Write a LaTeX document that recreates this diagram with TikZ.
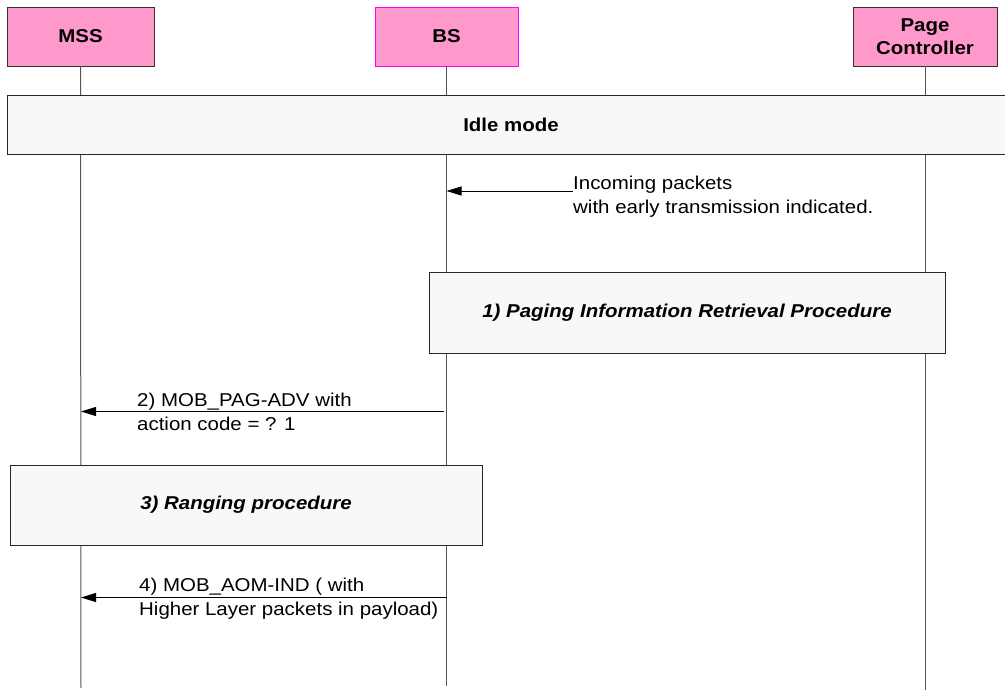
\documentclass[tikz,border=0pt]{standalone}
\usepackage{fontspec}
\setmainfont{Liberation Sans}[FakeStretch=1.1]
\usetikzlibrary{arrows.meta}
\definecolor{hdpink}{HTML}{FF99CC}
\definecolor{bsedge}{HTML}{FF00FF}
\definecolor{boxfill}{HTML}{F8F8F8}
\definecolor{lifegray}{HTML}{555555}
\definecolor{edgedark}{HTML}{333333}
\tikzset{
  hdbox/.style={draw=edgedark, fill=hdpink, line width=0.9pt, inner sep=0pt, align=center,
    font=\fontsize{18.6}{23.3}\selectfont\bfseries},
  procbox/.style={draw=black!85, fill=boxfill, line width=0.9pt, inner sep=0pt, align=center,
    font=\fontsize{18.6}{24}\selectfont\bfseries\itshape},
  lifeline/.style={draw=lifegray, line width=1pt},
  msg/.style={draw=black, line width=0.9pt, -{Triangle[length=15pt,width=9pt]}},
  msglabel/.style={inner sep=0pt, align=left, anchor=base west, font=\fontsize{18.6}{24.5}\selectfont}
}
\begin{document}
\begin{tikzpicture}[x=1pt, y=-1pt]
\useasboundingbox (0,0) rectangle (1005,693);
% lifeline ends
\coordinate (mssend) at (81,688);
\coordinate (bsend) at (446.5,686);
\coordinate (pcend) at (925,690);
% header boxes
\node[hdbox, minimum width=147pt, minimum height=59pt] (mss) at (80.5,36.5) {MSS};
\node[hdbox, draw=bsedge, minimum width=143pt, minimum height=59pt] (bs) at (446.5,36.5) {BS};
\node[hdbox, minimum width=144pt, minimum height=59pt] (pc) at (925,36.5) {Page\\Controller};
% lifelines
\draw[lifeline] (mss.south) -- (mssend);
\draw[lifeline] (bs.south) -- (bsend);
\draw[lifeline] (pc.south) -- (pcend);
% procedure boxes
\node[procbox, font=\fontsize{18.6}{24}\selectfont\bfseries, minimum width=1008pt, minimum height=59pt] (idle) at (511,125) {Idle mode};
\node[procbox, minimum width=516pt, minimum height=81pt] (paging) at (687,312.5) {1) Paging Information Retrieval Procedure};
\node[procbox, minimum width=472pt, minimum height=80pt] (ranging) at (246,505) {3) Ranging procedure};
% message 1
\coordinate (m1s) at (573,191);
\coordinate (m1e) at (446.5,191);
\draw[msg] (m1s) -- (m1e);
\node[msglabel] (lab1) at (573,213.5) {Incoming packets\\with early transmission indicated.};
% message 2
\coordinate (m2s) at (444,411.5);
\coordinate (m2e) at (81,411.5);
\draw[msg] (m2s) -- (m2e);
\node[msglabel] (lab2) at (137,430.5) {2) MOB\_PAG-ADV with\\action code = ? 1};
% message 4
\coordinate (m4s) at (447,597.5);
\coordinate (m4e) at (81,597.5);
\draw[msg] (m4s) -- (m4e);
\node[msglabel] (lab4) at (139,615.5) {4) MOB\_AOM-IND ( with\\Higher Layer packets in payload)};
\end{tikzpicture}
\end{document}
